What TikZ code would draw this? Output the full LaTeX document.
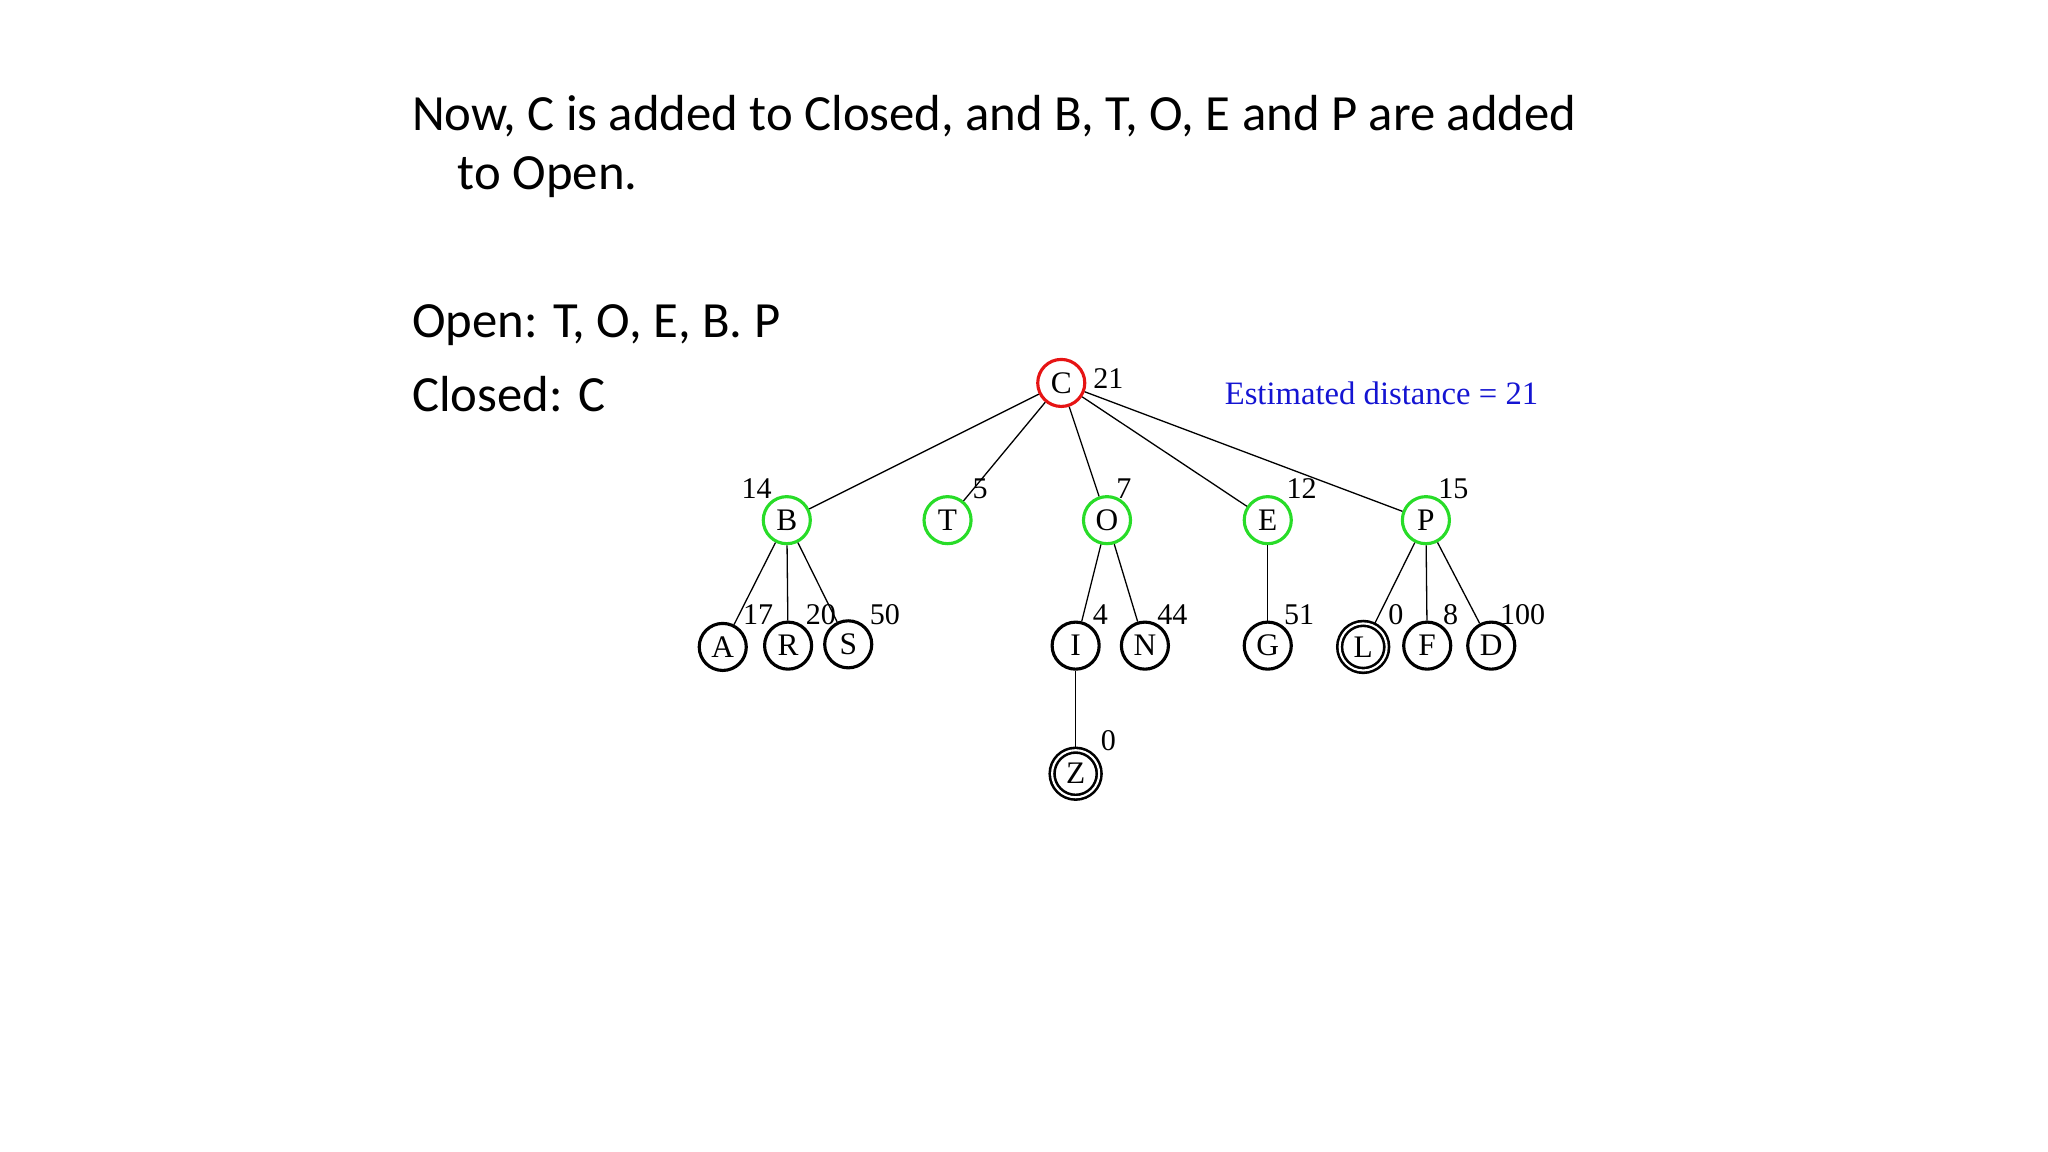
\documentclass[tikz,border=0pt]{standalone}
\usepackage{fontspec}
\setmainfont{Carlito}
\newfontfamily\tms{Liberation Serif}
\begin{document}
\begin{tikzpicture}[x=0.5pt,y=-0.5pt,
  nd/.style={circle,draw,line width=1.2pt,minimum size=18pt,inner sep=0pt,font=\tms\fontsize{12}{12}\selectfont},
  grn/.style={nd,draw={rgb,255:red,40;green,220;blue,40}},
  red/.style={nd,draw={rgb,255:red,230;green,20;blue,20}},
  fin/.style={nd,double,double distance=0.8pt,line width=1pt},
  lab/.style={font=\tms\fontsize{11.5}{11.5}\selectfont,inner sep=0pt},
  ed/.style={line width=0.5pt}]
\useasboundingbox (0,0) rectangle (1567,881);
\node[anchor=base west,font=\fontsize{19.4}{19.4}\selectfont,inner sep=0pt] (t1) at (315,100) {Now, C is added to Closed, and B, T, O, E and P are added};
\node[anchor=base west,font=\fontsize{19.4}{19.4}\selectfont,inner sep=0pt] (t2) at (350,145) {to Open.};
\node[anchor=base west,font=\fontsize{19.4}{19.4}\selectfont,inner sep=0pt] (t3) at (315,258) {Open: T, O, E, B. P};
\node[anchor=base west,font=\fontsize{19.4}{19.4}\selectfont,inner sep=0pt] (t4) at (315,315) {Closed: C};
\node[red] (C) at (812,293) {C};
\node[grn] (B) at (602,398) {B};
\node[grn] (T) at (725,398) {T};
\node[grn] (O) at (847,398) {O};
\node[grn] (E) at (970,398) {E};
\node[grn] (P) at (1091,398) {P};
\node[nd] (A) at (553,495) {A};
\node[nd] (R) at (603,494) {R};
\node[nd] (S) at (649,493) {S};
\node[nd] (I) at (823,494) {I};
\node[nd] (N) at (876,494) {N};
\node[nd] (G) at (970,494) {G};
\node[fin] (L) at (1043,495) {L};
\node[nd] (F) at (1092,494) {F};
\node[nd] (D) at (1141,494) {D};
\node[fin] (Z) at (823,592) {Z};
\foreach \a/\b in {C/B,C/T,C/O,C/E,C/P,B/A,B/R,B/S,O/I,O/N,E/G,P/L,P/F,P/D,I/Z}
  \draw[ed] (\a) -- (\b);
\node[lab] (l21) at (848,290) {21};
\node[lab,text={rgb,255:red,20;green,20;blue,210},font=\tms\fontsize{12.5}{12.5}\selectfont] (est) at (1057,301) {Estimated distance = 21};
\node[lab] (l14) at (579,374) {14};
\node[lab] (l5) at (750,374) {5};
\node[lab] (l7) at (860,374) {7};
\node[lab] (l12) at (996,374) {12};
\node[lab] (l15) at (1112,374) {15};
\node[lab] (l17) at (580,470) {17};
\node[lab] (l20) at (628,470) {20};
\node[lab] (l50) at (677,470) {50};
\node[lab] (l4) at (842,470) {4};
\node[lab] (l44) at (897,470) {44};
\node[lab] (l51) at (994,470) {51};
\node[lab] (l0) at (1068,470) {0};
\node[lab] (l8) at (1110,470) {8};
\node[lab] (l100) at (1165,470) {100};
\node[lab] (lz) at (848,567) {0};
\end{tikzpicture}
\end{document}
